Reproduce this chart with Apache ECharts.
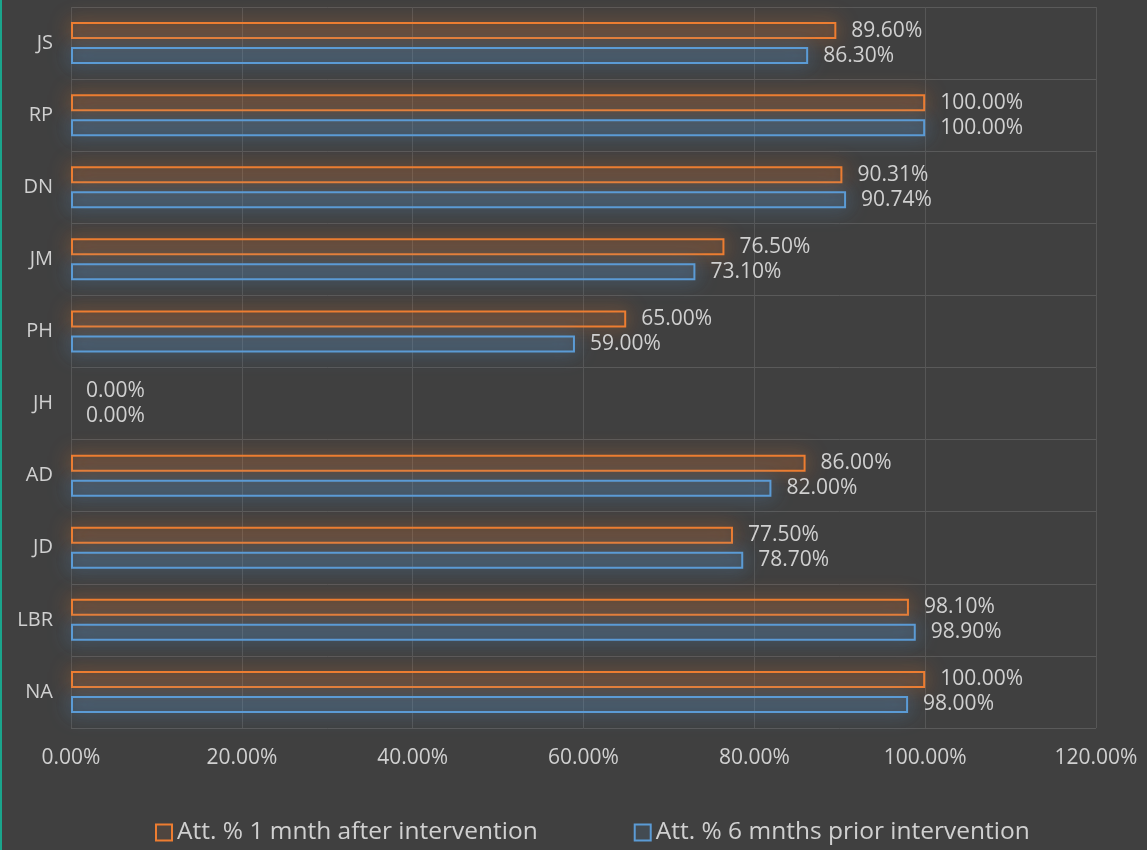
<!DOCTYPE html>
<html><head><meta charset="utf-8">
<script src="https://cdn.jsdelivr.net/npm/echarts@6/dist/echarts.min.js"></script>
<style>html,body{margin:0;padding:0;background:#404040;}#c{width:1147px;height:850px;border-left:2px solid #1aa58c;box-sizing:border-box;}</style>
</head><body><div id="c"></div>
<script>
const categories = ['JS','RP','DN','JM','PH','JH','AD','JD','LBR','NA'];
const afterValues = [89.6,100,90.31,76.5,65,0,86,77.5,98.1,100];
const priorValues = [86.3,100,90.74,73.1,59,0,82,78.7,98.9,98];
const seriesNames = ['Att. % 1 mnth after intervention','Att. % 6 mnths prior intervention'];
const xTicks = [0,20,40,60,80,100,120];

const chart = echarts.init(document.getElementById('c'));
const font = '"Open Sans", Lato, sans-serif';
function mk(name, data, col, fill){
  return {
    name, type:'bar', barWidth:17, barGap:'47%',
    data: data.map(v => v === 0 ? {value:v, itemStyle:{borderWidth:0, shadowBlur:0, color:'rgba(0,0,0,0)'}} : v),
    itemStyle:{color:fill, borderColor:col, borderWidth:2, shadowColor:col, shadowBlur:20},
    label:{show:true, position:'right', distance:15, color:'#d0d0d0', fontSize:21, fontFamily:font,
      formatter:p=>p.value.toFixed(2)+'%'}
  };
}
chart.setOption({
  backgroundColor:'#404040',
  animation:false,
  grid:{left:69, right:51, top:7, bottom:122, containLabel:false},
  xAxis:{type:'value', min:xTicks[0], max:xTicks[xTicks.length-1], interval:20,
    axisLine:{show:false}, axisTick:{show:false},
    splitLine:{show:true, lineStyle:{color:'#565656', width:1}},
    axisLabel:{color:'#d0d0d0', fontSize:21, fontFamily:font, margin:20, formatter:v=>v.toFixed(2)+'%'}},
  yAxis:{type:'category', data:categories, inverse:true,
    axisLine:{show:false}, axisTick:{show:false},
    splitLine:{show:true, lineStyle:{color:'#5a5a5a', width:1}},
    axisLabel:{color:'#d0d0d0', fontSize:20, fontFamily:font, margin:18}},
  legend:{bottom:0, left:148, itemGap:96, itemWidth:16, itemHeight:16, icon:'rect',
    textStyle:{color:'#d0d0d0', fontSize:24.5, fontFamily:font},
    data:seriesNames},
  series:[
    mk(seriesNames[0], afterValues, '#ED7D31', 'rgba(237,125,49,0.08)'),
    mk(seriesNames[1], priorValues, '#5B9BD5', 'rgba(91,155,213,0.12)')
  ]
});
</script></body></html>
